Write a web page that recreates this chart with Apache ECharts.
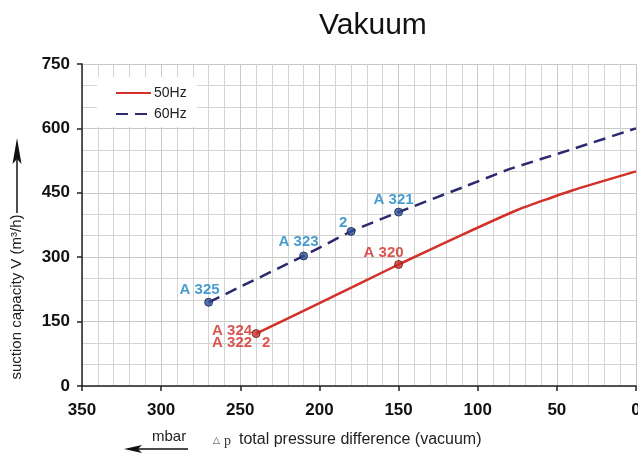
<!DOCTYPE html>
<html>
<head>
<meta charset="utf-8">
<script src="https://cdn.jsdelivr.net/npm/echarts@6/dist/echarts.min.js"></script>
<style>html,body{margin:0;padding:0;background:#fff}#c{width:638px;height:454px}</style>
</head>
<body>
<div id="c"></div>
<script>
// ---- data ----
const seriesNames = ['50Hz', '60Hz'];
const pressure50 = [240, 200, 150, 110, 75, 40, 0];
const flow50     = [122, 193, 283, 352, 410, 456, 500];
const pressure60 = [270, 210, 180, 150, 110, 80, 40, 0];
const flow60     = [195, 303, 360, 405, 462, 505, 552, 600];
const marks50P = [240, 150];
const marks50V = [122, 283];
const marks50Labels = ['A 324\nA 322', 'A 320'];
const extra50Labels = ['2'];          // attached to first 50Hz mark
const marks60P = [270, 210, 180, 150];
const marks60V = [195, 303, 360, 405];
const marks60Labels = ['A 325', 'A 323', '2', 'A 321'];
const xTicks = [350, 300, 250, 200, 150, 100, 50, 0];
const yTicks = [0, 150, 300, 450, 600, 750];

// ---- styling (kept separate) ----
const FONT = '"Liberation Sans", Arial, sans-serif';
const RED = '#d3302a', NAVY = '#2c2a6e';
const RED_LBL = '#d22a24', BLUE_LBL = '#1a84c4';
const offs50 = [[-24, 3], [-15, -12]];
const offsExtra50 = [[10, 9]];
const offs60 = [[-9, -12], [-5, -14], [-8, -9], [-5, -12]];

const zip = (a, b) => a.map((v, i) => [v, b[i]]);

const chart = echarts.init(document.getElementById('c'), null, {renderer: 'canvas'});
chart.setOption({
  animation: false,
  backgroundColor: '#fff',
  title: {
    text: 'Vakuum', left: 314, top: 6,
    textStyle: {fontFamily: FONT, fontSize: 30, fontWeight: 'normal', color: '#111'}
  },
  legend: {
    data: seriesNames, orient: 'vertical', left: 97, top: 77,
    padding: [9, 10, 6, 18], itemGap: 7, itemWidth: 35, itemHeight: 14,
    backgroundColor: '#fff',
    itemStyle: {opacity: 0},
    textStyle: {fontFamily: FONT, fontSize: 14, color: '#222', padding: [0, 0, 0, -2]}
  },
  grid: {left: 82, right: 2, top: 64, bottom: 68, containLabel: false, outerBoundsMode: 'none'},
  xAxis: {
    type: 'value', inverse: true, min: xTicks[xTicks.length - 1], max: xTicks[0], interval: 50,
    axisLine: {show: true, onZero: false, lineStyle: {color: '#222', width: 1.5}},
    axisTick: {show: true, length: 5, lineStyle: {color: '#222', width: 1.5}},
    minorTick: {show: false, splitNumber: 5},
    minorSplitLine: {show: true, lineStyle: {color: '#d4d4d4', width: 1}},
    splitLine: {show: true, lineStyle: {color: '#c8c8c8', width: 1}},
    axisLabel: {margin: 16, fontFamily: FONT, fontSize: 17, fontWeight: 'bold', color: '#111'}
  },
  yAxis: {
    type: 'value', min: yTicks[0], max: yTicks[yTicks.length - 1], interval: 150,
    axisLine: {show: true, onZero: false, lineStyle: {color: '#222', width: 1.5}},
    axisTick: {show: true, length: 5, lineStyle: {color: '#222', width: 1.5}},
    minorTick: {show: false, splitNumber: 3},
    minorSplitLine: {show: true, lineStyle: {color: '#d4d4d4', width: 1}},
    splitLine: {show: true, lineStyle: {color: '#c8c8c8', width: 1}},
    axisLabel: {margin: 12, fontFamily: FONT, fontSize: 17, fontWeight: 'bold', color: '#111'}
  },
  series: [
    {
      name: seriesNames[0], type: 'line', data: zip(pressure50, flow50),
      symbol: 'none', smooth: 0.15, color: RED,
      lineStyle: {color: RED, width: 2.5}, z: 3
    },
    {
      name: seriesNames[1], type: 'line', data: zip(pressure60, flow60),
      symbol: 'none', smooth: 0.15, color: NAVY,
      lineStyle: {color: NAVY, width: 2.5, type: [12, 7]}, z: 3
    },
    {
      type: 'scatter', symbol: 'circle', symbolSize: 8, z: 5,
      itemStyle: {color: '#c9302a', borderColor: '#6a1a16', borderWidth: 1},
      data: marks50P.map((p, i) => ({
        value: [p, marks50V[i]],
        label: {show: true, position: 'inside', offset: offs50[i], formatter: marks50Labels[i], align: 'center',
          fontFamily: FONT, fontSize: 15, fontWeight: 'bold', color: RED_LBL, lineHeight: 12}
      })),
      tooltip: {show: false}
    },
    {
      type: 'scatter', symbol: 'circle', symbolSize: 0, z: 5,
      data: extra50Labels.map((t, i) => ({
        value: [marks50P[i], marks50V[i]],
        label: {show: true, position: 'inside', offset: offsExtra50[i], formatter: t,
          fontFamily: FONT, fontSize: 15, fontWeight: 'bold', color: RED_LBL}
      }))
    },
    {
      type: 'scatter', symbol: 'circle', symbolSize: 8, z: 5,
      itemStyle: {color: '#2b4f95', borderColor: '#1a2350', borderWidth: 1},
      data: marks60P.map((p, i) => ({
        value: [p, marks60V[i]],
        label: {show: true, position: 'inside', offset: offs60[i], formatter: marks60Labels[i],
          fontFamily: FONT, fontSize: 15, fontWeight: 'bold', color: BLUE_LBL}
      }))
    }
  ],
  graphic: [
    {type: 'text', x: 17, y: 297, rotation: Math.PI / 2,
      style: {text: 'suction capacity V (m³/h)', fontFamily: FONT, fontSize: 15, fill: '#222',
        align: 'center', verticalAlign: 'middle'}},
    {type: 'line', shape: {x1: 17, y1: 213, x2: 17, y2: 158}, style: {stroke: '#111', lineWidth: 1.5}},
    {type: 'polygon', shape: {points: [[12.5, 164], [17, 138], [21.5, 164], [17, 159]]}, style: {fill: '#111'}},
    {type: 'text', x: 152, y: 437,
      style: {text: 'mbar', fontFamily: FONT, fontSize: 15, fill: '#222', align: 'left', verticalAlign: 'middle'}},
    {type: 'line', shape: {x1: 137, y1: 449, x2: 188, y2: 449}, style: {stroke: '#111', lineWidth: 1.5}},
    {type: 'polygon', shape: {points: [[124, 449], [142, 445], [138, 449], [142, 453]]}, style: {fill: '#111'}},
    {type: 'text', x: 213, y: 441,
      style: {text: '△', fontFamily: '"DejaVu Sans", sans-serif', fontSize: 9, fill: '#333', align: 'left', verticalAlign: 'middle'}},
    {type: 'text', x: 224, y: 441,
      style: {text: 'p', fontFamily: '"Liberation Serif", serif', fontSize: 14, fill: '#333', align: 'left', verticalAlign: 'middle'}},
    {type: 'text', x: 239, y: 440,
      style: {text: 'total pressure difference (vacuum)', fontFamily: FONT, fontSize: 16, fill: '#222', align: 'left', verticalAlign: 'middle'}}
  ]
});
</script>
</body>
</html>
